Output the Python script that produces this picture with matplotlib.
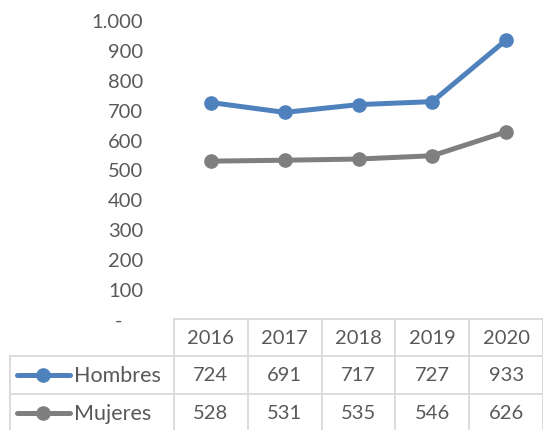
import matplotlib
matplotlib.use("Agg")
import matplotlib.pyplot as plt

years = ["2016", "2017", "2018", "2019", "2020"]
hombres = [724, 691, 717, 727, 933]
mujeres = [528, 531, 535, 546, 626]
series_names = ["Hombres", "Mujeres"]
ytick_vals = [0, 100, 200, 300, 400, 500, 600, 700, 800, 900, 1000]
ytick_labels = ["-    ", "100", "200", "300", "400", "500", "600", "700", "800", "900", "1.000"]

colors = ["#4F81BD", "#7F7F7F"]
txt = "#595959"
grid = "#D9D9D9"
plt.rcParams['font.family'] = ['Lato', 'DejaVu Sans']
fs = 14.5

W, H = 543, 431
fig = plt.figure(figsize=(W/100, H/100), dpi=100)

x0, x1 = 174, 543
ytop, ybot = 21, 320
ax = fig.add_axes([x0/W, 1-ybot/H, (x1-x0)/W, (ybot-ytop)/H])
xs = list(range(len(years)))
for vals, c in zip([hombres, mujeres], colors):
    ax.plot(xs, vals, color=c, lw=3.6, marker='o', ms=9.5, solid_capstyle='round', clip_on=False)
ax.set_xlim(-0.5, len(years)-0.5)
ax.set_ylim(0, 1000)
ax.set_yticks(ytick_vals)
ax.set_yticklabels(ytick_labels, fontsize=fs, color=txt)
ax.tick_params(axis='y', length=0, pad=22)
ax.set_xticks([])
for s in ax.spines.values():
    s.set_visible(False)

# table axes in pixel coordinates
tax = fig.add_axes([0, 0, 1, 1])
tax.set_xlim(0, W)
tax.set_ylim(H, 0)
tax.axis('off')
row_y = [320, 357, 395, 433]
left = 10
colw = (x1 - x0) / len(years)
lw = 1.3
tax.plot([x0, x1], [row_y[0], row_y[0]], color=grid, lw=lw)
for yy in row_y[1:]:
    tax.plot([left, x1], [yy, yy], color=grid, lw=lw)
tax.plot([left, left], [row_y[1], row_y[3]], color=grid, lw=lw)
for i in range(len(years)+1):
    xx = x0 + i*colw
    tax.plot([xx, xx], [row_y[0], row_y[3]], color=grid, lw=lw)
for i, yr in enumerate(years):
    tax.text(x0 + (i+0.5)*colw, (row_y[0]+row_y[1])/2, yr, ha='center', va='center', fontsize=fs, color=txt)
for r, (name, vals, c) in enumerate(zip(series_names, [hombres, mujeres], colors)):
    yc = (row_y[r+1] + row_y[r+2]) / 2
    tax.plot([17, 70], [yc, yc], color=c, lw=3.6, solid_capstyle='round')
    tax.plot([43], [yc], marker='o', color=c, ms=9.5)
    tax.text(74, yc, name, ha='left', va='center', fontsize=15.5, color=txt)
    for i, v in enumerate(vals):
        tax.text(x0 + (i+0.5)*colw, yc, str(v), ha='center', va='center', fontsize=fs, color=txt)

fig.savefig("out.png", dpi=100)
